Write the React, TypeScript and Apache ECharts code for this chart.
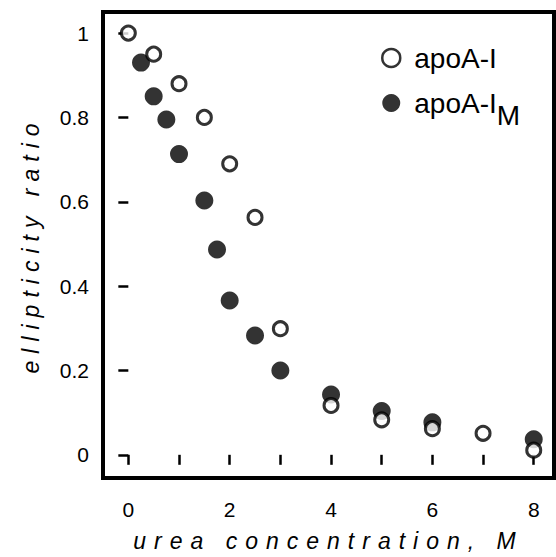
import React, { useEffect, useRef } from 'react';
import * as echarts from 'echarts';

// Urea concentration (M) and ellipticity ratio
const ureaApoA1 = [0, 0.5, 1, 1.5, 2, 2.5, 3, 4, 5, 6, 7, 8];
const ratioApoA1 = [1.0, 0.95, 0.88, 0.8, 0.69, 0.563, 0.299, 0.117, 0.083, 0.062, 0.051, 0.011];
const ureaApoA1M = [0.25, 0.5, 0.75, 1, 1.5, 1.75, 2, 2.5, 3, 4, 5, 6, 8];
const ratioApoA1M = [0.93, 0.85, 0.795, 0.713, 0.603, 0.487, 0.366, 0.283, 0.2, 0.143, 0.104, 0.077, 0.037];

const xTicks = [0, 1, 2, 3, 4, 5, 6, 7, 8];
const xLabels = [0, 2, 4, 6, 8];
const yTicks = [0, 0.2, 0.4, 0.6, 0.8, 1];

const seriesNames = ['apoA-I', 'apoA-IM'];
const xTitle = 'urea concentration, M';
const yTitle = 'ellipticity ratio';

const FONT = '"Liberation Sans", Arial, Helvetica, sans-serif';

export default function App() {
  const ref = useRef<HTMLDivElement>(null);

  useEffect(() => {
    if (!ref.current) return;
    const chart = echarts.init(ref.current, null, { renderer: 'svg' });
    const pairs = (xs: number[], ys: number[]) => xs.map((x, i) => [x, ys[i]]);
    chart.setOption({
      animation: false,
      backgroundColor: '#fff',
      grid: {
        left: 103,
        right: 2,
        top: 12,
        bottom: 76,
        show: true,
        borderColor: '#000',
        borderWidth: 4,
        backgroundColor: 'transparent',
      },
      legend: {
        orient: 'vertical',
        left: 381,
        top: 44,
        padding: 0,
        itemWidth: 18,
        itemHeight: 18,
        itemGap: 5,
        selectedMode: false,
        data: [
          { name: seriesNames[0], icon: 'circle', itemStyle: { borderWidth: 2.5 } },
          { name: seriesNames[1], icon: 'circle' },
        ],
        formatter: (n: string) => (n === seriesNames[1] ? '{a|apoA-I}{s|M}' : '{a|apoA-I}'),
        textStyle: {
          rich: {
            a: { fontSize: 28, lineHeight: 48, padding: [0, 0, 0, 9], fontFamily: FONT, color: '#000' },
            s: { fontSize: 28, lineHeight: 48, padding: [24, 0, 0, 0], fontFamily: FONT, color: '#000' },
          },
        },
      },
      xAxis: {
        type: 'value',
        min: -0.5,
        max: 8.4,
        offset: 2,
        splitLine: { show: false },
        axisLine: { show: false },
        axisTick: {
          show: true,
          length: 10,
          inside: false,
          customValues: xTicks,
          lineStyle: { color: '#000', width: 2.5 },
        },
        axisLabel: {
          customValues: xLabels,
          margin: 19,
          fontSize: 21,
          color: '#000',
          fontFamily: FONT,
        },
        name: xTitle,
        nameLocation: 'middle',
        nameGap: 49,
        nameTextStyle: { fontSize: 23, fontStyle: 'italic', color: '#010101', fontFamily: FONT },
      },
      yAxis: {
        type: 'value',
        min: -0.055,
        max: 1.05,
        splitLine: { show: false },
        axisLine: { show: false },
        axisTick: {
          show: true,
          length: 10,
          inside: false,
          customValues: yTicks,
          lineStyle: { color: '#000', width: 2.5 },
        },
        axisLabel: {
          customValues: yTicks,
          margin: 14,
          fontSize: 21,
          color: '#000',
          fontFamily: FONT,
        },
        name: yTitle,
        nameLocation: 'middle',
        nameGap: 61,
        nameRotate: 90,
        nameTextStyle: { fontSize: 23, fontStyle: 'italic', color: '#020202', fontFamily: FONT },
      },
      series: [
        {
          name: seriesNames[1],
          type: 'scatter',
          symbol: 'circle',
          symbolSize: 18,
          data: pairs(ureaApoA1M, ratioApoA1M),
          itemStyle: { color: '#000', borderWidth: 0 },
          emphasis: { disabled: true },
          z: 2,
        },
        {
          name: seriesNames[0],
          type: 'scatter',
          symbol: 'circle',
          symbolSize: 14,
          data: pairs(ureaApoA1, ratioApoA1),
          itemStyle: { color: '#fff', borderColor: '#000', borderWidth: 3 },
          emphasis: { disabled: true },
          z: 3,
        },
      ],
    });
    return () => chart.dispose();
  }, []);

  return (
    <>
      <style>{`
        body { margin: 0; }
        [fill="#010101"] { letter-spacing: 8px; }
        [fill="#020202"] { letter-spacing: 7px; }
      `}</style>
      <div
        ref={ref}
        style={{ position: 'absolute', left: 0, top: 0, width: 556, height: 557 }}
      />
    </>
  );
}
